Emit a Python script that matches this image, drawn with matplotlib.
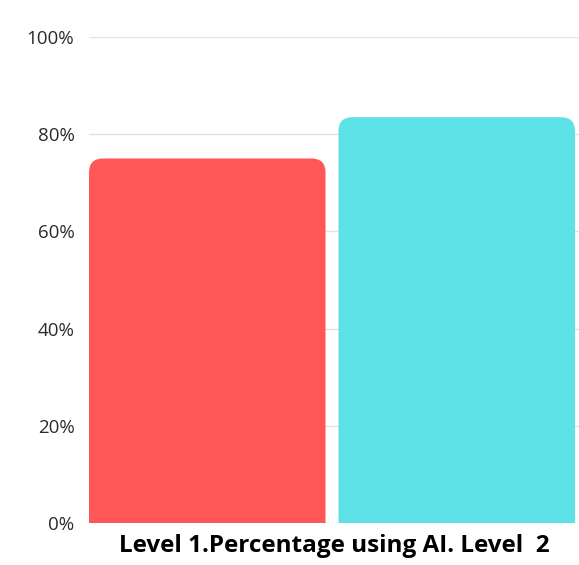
import matplotlib
matplotlib.use("Agg")
import matplotlib.pyplot as plt
from matplotlib.patches import FancyBboxPatch

# data
categories = ["Level 1", "Level 2"]
values = [75, 83.5]
colors = ["#FF5757", "#5CE1E6"]
yticks = [0, 20, 40, 60, 80, 100]
ytick_labels = ["0%", "20%", "40%", "60%", "80%", "100%"]
caption = "Level 1.Percentage using AI. Level  2"

W, H = 579, 565
fig = plt.figure(figsize=(W / 100, H / 100), dpi=100)
ax = fig.add_axes([89 / W, 1 - 523 / H, (W - 89) / W, (523 - 37) / H])

bar_w = 0.948
ax.set_xlim(-bar_w / 2, 1.49)
ax.set_ylim(0, 100)

# px per data unit, for round corners that stay circular
px_x = ax.get_position().width * W / (1.49 + bar_w / 2)
px_y = ax.get_position().height * H / 100.0
aspect = px_x / px_y
radius = 14 / px_x

bars = ax.bar(range(len(values)), values, width=bar_w, color=colors)
for b, c in zip(bars, colors):
    x, w, h = b.get_x(), b.get_width(), b.get_height()
    b.set_visible(False)
    p = FancyBboxPatch((x, -20), w, h + 20,
                       boxstyle="round,pad=0,rounding_size=%f" % radius,
                       mutation_aspect=aspect, facecolor=c, edgecolor="none",
                       zorder=2)
    ax.add_patch(p)

ax.set_yticks(yticks)
ax.set_yticklabels(ytick_labels)
ax.set_xticks([])
ax.grid(axis="y", color="#e3e3e3", linewidth=1, zorder=0)
ax.set_axisbelow(True)
for s in ax.spines.values():
    s.set_visible(False)
ax.tick_params(axis="y", length=0, pad=10.5, labelsize=13.5, labelcolor="#2b2b2b")
for t in ax.get_yticklabels():
    t.set_fontfamily("Open Sans")

fig.text(334 / W, 1 - 546 / H, caption, ha="center", va="center",
         fontsize=17.5, fontweight="bold", family="Open Sans", color="black")

fig.savefig("out.png", dpi=100)
